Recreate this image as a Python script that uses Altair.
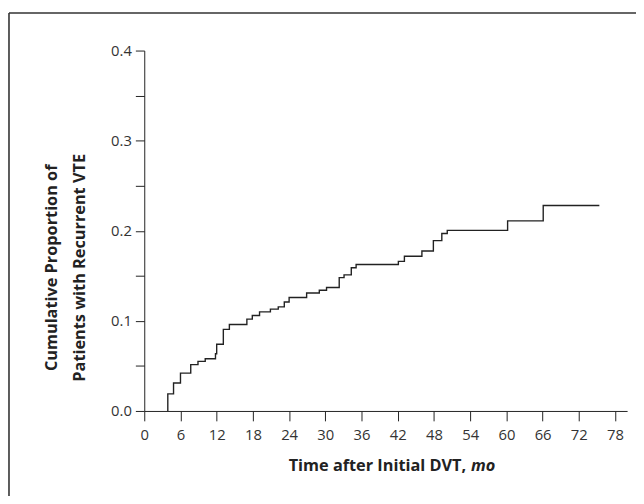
import altair as alt
import pandas as pd

# Kaplan-Meier style cumulative proportion
months = [3.9, 3.9, 4.85, 6.0, 7.7, 8.9, 10.1, 11.8, 12.0, 13.1, 14.1, 17.0, 17.9,
          19.1, 20.9, 22.2, 23.2, 24.0, 26.9, 29.0, 30.2, 32.3, 33.1, 34.3, 35.1,
          42.1, 43.1, 46.0, 47.9, 49.3, 50.2, 60.2, 66.1, 75.4]
cumulative = [0, 0.019, 0.031, 0.042, 0.0515, 0.055, 0.058, 0.0635, 0.074, 0.0906,
              0.096, 0.102, 0.106, 0.110, 0.113, 0.1155, 0.121, 0.126, 0.131, 0.134,
              0.137, 0.148, 0.151, 0.159, 0.1625, 0.166, 0.1717, 0.1775, 0.189,
              0.197, 0.2005, 0.211, 0.228, 0.228]

x_ticks = list(range(0, 79, 6))
y_ticks = [0, 0.05, 0.1, 0.15, 0.2, 0.25, 0.3, 0.35, 0.4]

x_title_main = "Time after Initial DVT,"
x_title_unit = "mo"
y_title_1 = "Cumulative Proportion of"
y_title_2 = "Patients with Recurrent VTE"

FONT = "Open Sans"

df = pd.DataFrame({"month": months, "cum": cumulative})

line = alt.Chart(df).mark_line(interpolate="step-after", color="#222222", strokeWidth=1.4).encode(
    x=alt.X("month:Q",
            scale=alt.Scale(domain=[0, 80], nice=False, zero=False),
            axis=alt.Axis(values=x_ticks, title=None, grid=False, tickSize=10,
                          labelPadding=7, labelFontSize=15, labelColor="#333333",
                          domainColor="#222222", tickColor="#222222",
                          labelFont=FONT, labelFlush=False)),
    y=alt.Y("cum:Q",
            scale=alt.Scale(domain=[0, 0.4], nice=False),
            axis=alt.Axis(values=y_ticks, title=None, grid=False, tickSize=9,
                          labelPadding=4, labelFontSize=15, labelColor="#333333",
                          domainColor="#222222", tickColor="#222222",
                          labelFont=FONT,
                          labelExpr="round(datum.value*100) % 10 == 0 ? format(datum.value, '.1f') : ''")),
)

one = pd.DataFrame({"a": [0]})

def txt(text, x, y, **kw):
    return alt.Chart(one).mark_text(font=FONT, fontWeight="bold", color="#222222", **kw).encode(
        x=alt.value(x), y=alt.value(y), text=alt.value(text))

xt1 = txt(x_title_main, 326, 426, align="right", baseline="alphabetic", fontSize=16.5)
xt2 = txt(x_title_unit, 331, 426, align="left", baseline="alphabetic", fontSize=16.5, fontStyle="italic")
yt1 = txt(y_title_1, -93, 220, align="center", baseline="middle", fontSize=16.5, angle=270)
yt2 = txt(y_title_2, -65, 220, align="center", baseline="middle", fontSize=16.5, angle=270)

frame_left = alt.Chart(one).mark_rule(color="#333333", strokeWidth=1.6).encode(
    x=alt.value(-137), y=alt.value(-38), y2=alt.value(460))
frame_top = alt.Chart(one).mark_rule(color="#333333", strokeWidth=1.6).encode(
    x=alt.value(-137), x2=alt.value(510), y=alt.value(-38))

chart = alt.layer(line, xt1, xt2, yt1, yt2, frame_left, frame_top).properties(
    width=489, height=365,
    autosize=alt.AutoSizeParams(type="none"),
    padding={"left": 138, "top": 40, "right": 9, "bottom": 83},
).configure_view(stroke=None)

chart.save("out.html", embed_options={"renderer": "svg", "actions": False})
